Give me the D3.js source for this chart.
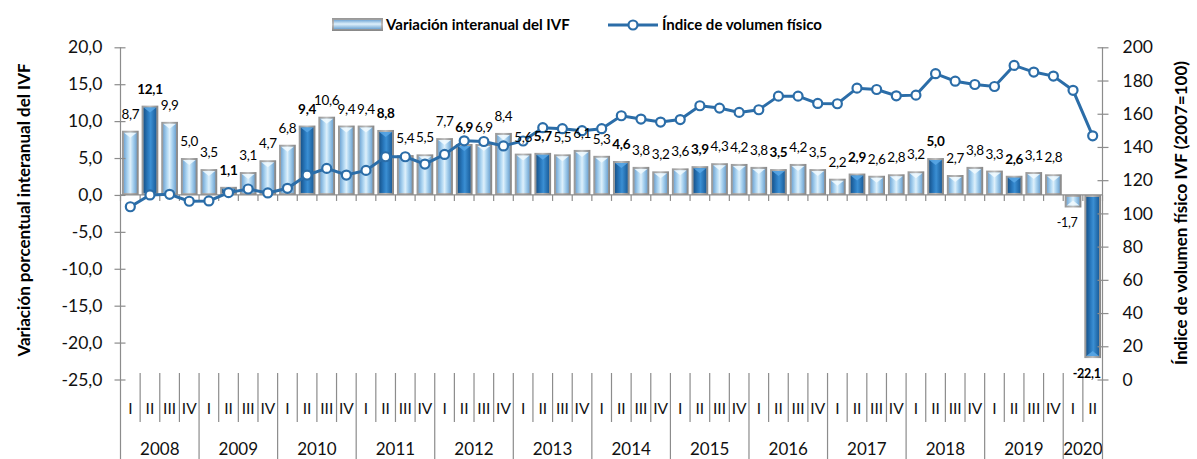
<!DOCTYPE html>
<html>
<head>
<meta charset="utf-8">
<script src="https://cdn.jsdelivr.net/npm/d3@7"></script>
<style>
  body { margin: 0; background: #fff; }
  svg { display: block; font-family: Lato, 'Noto Sans', sans-serif; }
  .tick text { fill: #111; }
</style>
</head>
<body>
<svg id="viz" width="1197" height="459"></svg>
<script>
(function () {
    // data
    let years = ['2008', '2009', '2010', '2011', '2012', '2013', '2014', '2015', '2016', '2017', '2018', '2019', '2020']
    let quarterNames = ['I', 'II', 'III', 'IV']
    let quartersPerYear = [4, 4, 4, 4, 4, 4, 4, 4, 4, 4, 4, 4, 2]
    let variation = [
        8.7, 12.1, 9.9, 5.0,
        3.5, 1.1, 3.1, 4.7,
        6.8, 9.4, 10.6, 9.4,
        9.4, 8.8, 5.4, 5.5,
        7.7, 6.9, 6.9, 8.4,
        5.6, 5.7, 5.5, 6.1,
        5.3, 4.6, 3.8, 3.2,
        3.6, 3.9, 4.3, 4.2,
        3.8, 3.5, 4.2, 3.5,
        2.2, 2.9, 2.6, 2.8,
        3.2, 5.0, 2.7, 3.8,
        3.3, 2.6, 3.1, 2.8,
        -1.7, -22.1
    ]
    let ivf = [
        104.0, 111.1, 111.5, 107.3,
        107.5, 112.5, 114.7, 112.3,
        115.1, 123.1, 127.1, 123.1,
        125.9, 134.1, 134.1, 129.7,
        135.5, 143.7, 143.3, 140.6,
        143.6, 151.6, 151.0, 149.8,
        151.0, 158.8, 156.8, 155.0,
        156.5, 164.8, 163.4, 160.8,
        162.4, 170.6, 170.6, 166.2,
        166.0, 175.4, 174.6, 170.8,
        171.2, 184.1, 179.6, 177.6,
        176.4, 189.1, 185.1, 182.7,
        174.1, 146.7
    ]
    let leftTicks = [20, 15, 10, 5, 0, -5, -10, -15, -20, -25]
    let rightTicks = [0, 20, 40, 60, 80, 100, 120, 140, 160, 180, 200]

    let config = {
        plot: { left: 120.5, right: 1102.5, top: 47.3, bottom: 379.5 },
        axisColor: '#8c8c8c',
        lineColor: '#2b6da8'
    }

    let locale = d3.formatLocale({ decimal: ',', thousands: '.', grouping: [3], currency: ['', ''], minus: '-' })
    let fmt1 = locale.format('.1f')

    // build the category list (year + quarter)
    let categories = []
    years.forEach((y, yi) => {
        for (let q = 0; q < quartersPerYear[yi]; q++) {
            categories.push({ year: y, quarter: quarterNames[q], q: q, idx: categories.length })
        }
    })

    let svg = d3.select('#viz')
    let p = config.plot

    let x = d3.scaleBand()
        .domain(categories.map(d => d.idx))
        .range([p.left, p.right])
        .paddingInner(0.15)
        .paddingOuter(0.075)
    let step = x.step()
    let yLeft = d3.scaleLinear().domain([-25, 20]).range([p.bottom, p.top])
    let yRight = d3.scaleLinear().domain([0, 200]).range([p.bottom, p.top])

    // gradients for the cylinder-ish bars
    let defs = svg.append('defs')
    function hGrad(id, stops) {
        let g = defs.append('linearGradient').attr('id', id)
            .attr('x1', '0%').attr('x2', '100%').attr('y1', '0%').attr('y2', '0%')
        stops.forEach(s => g.append('stop').attr('offset', s[0]).attr('stop-color', s[1]))
    }
    function vGrad(id, stops) {
        let g = defs.append('linearGradient').attr('id', id)
            .attr('x1', '0%').attr('x2', '0%').attr('y1', '0%').attr('y2', '100%')
        stops.forEach(s => g.append('stop').attr('offset', s[0]).attr('stop-color', s[1]))
    }
    hGrad('frameGrad', [['0%', '#969696'], ['50%', '#bdbdbd'], ['100%', '#858585']])
    hGrad('lightGrad', [['0%', '#74a8d6'], ['30%', '#b0d7f2'], ['50%', '#def0fb'], ['70%', '#acd4f0'], ['100%', '#70a5d3']])
    hGrad('darkGrad', [['0%', '#17548c'], ['35%', '#2a7abf'], ['55%', '#3b8fd3'], ['100%', '#1a5e9c']])
    vGrad('legendLight', [['0%', '#74a8d6'], ['45%', '#def0fb'], ['100%', '#70a5d3']])
    vGrad('legendFrame', [['0%', '#969696'], ['50%', '#bdbdbd'], ['100%', '#858585']])

    // bars
    let gBars = svg.append('g')
    categories.forEach(c => {
        let v = variation[c.idx]
        let isDark = c.q === 1
        let bx = x(c.idx)
        let bw = x.bandwidth()
        let y0 = yLeft(0)
        let y1 = yLeft(v)
        let top = Math.min(y0, y1)
        let h = Math.abs(y1 - y0)
        gBars.append('rect')
            .attr('x', bx).attr('y', top).attr('width', bw).attr('height', h)
            .attr('fill', 'url(#frameGrad)')
        gBars.append('rect')
            .attr('x', bx + 2).attr('y', top + 2).attr('width', bw - 4).attr('height', Math.max(0, h - 4))
            .attr('fill', isDark ? 'url(#darkGrad)' : 'url(#lightGrad)')
        // small cap highlight on the top of the bar
        if (h > 8) {
            let capY = v >= 0 ? top + 2 : top + h - 2
            let dir = v >= 0 ? 1 : -1
            gBars.append('path')
                .attr('d', `M${bx + 2},${capY} L${bx + bw - 2},${capY} L${bx + bw / 2},${capY + dir * 5} Z`)
                .attr('fill', isDark ? '#5aa8e6' : '#f2fafe')
                .attr('opacity', 0.85)
        }
    })

    // category axis line at zero with small ticks
    let gZero = svg.append('g').attr('stroke', config.axisColor).attr('stroke-width', 1.2)
    gZero.append('line')
        .attr('x1', p.left).attr('x2', p.right)
        .attr('y1', yLeft(0)).attr('y2', yLeft(0))
    d3.range(categories.length + 1).forEach(i => {
        let bxv = p.left + i * step
        gZero.append('line')
            .attr('x1', bxv).attr('x2', bxv)
            .attr('y1', yLeft(0)).attr('y2', yLeft(0) + 6)
    })

    // multilevel category labels at the bottom
    let gCat = svg.append('g')
    let sepTop = 373
    categories.forEach(c => {
        let cx = x(c.idx) + x.bandwidth() / 2
        gCat.append('text')
            .attr('x', cx).attr('y', 414)
            .attr('text-anchor', 'middle')
            .attr('font-size', 15.5)
            .attr('fill', '#111')
            .text(c.quarter)
        if (c.idx > 0) {
            let bxv = p.left + c.idx * step
            gCat.append('line')
                .attr('x1', bxv).attr('x2', bxv)
                .attr('y1', sepTop).attr('y2', c.q === 0 ? 459 : 422)
                .attr('stroke', config.axisColor).attr('stroke-width', 1.2)
        }
    })
    let start = 0
    years.forEach((y, yi) => {
        let n = quartersPerYear[yi]
        let cx = p.left + (start + n / 2) * step
        gCat.append('text')
            .attr('x', cx).attr('y', 455)
            .attr('text-anchor', 'middle')
            .attr('font-size', 17)
            .attr('fill', '#111')
            .text(y)
        start += n
    })

    // left axis
    let gLeft = svg.append('g')
        .attr('transform', `translate(${p.left},0)`)
        .call(d3.axisLeft(yLeft).tickValues(leftTicks).tickSize(6).tickPadding(12).tickFormat(fmt1))
    gLeft.select('.domain').remove()
    gLeft.selectAll('.tick line').attr('x1', 5).attr('stroke', config.axisColor).attr('stroke-width', 1.2)
    gLeft.selectAll('.tick text').attr('font-size', 17.5).attr('font-family', 'Lato, sans-serif')
    gLeft.append('line')
        .attr('x1', 0).attr('x2', 0).attr('y1', p.top).attr('y2', 459)
        .attr('stroke', config.axisColor).attr('stroke-width', 1.2)

    // right axis
    let gRight = svg.append('g')
        .attr('transform', `translate(${p.right},0)`)
        .call(d3.axisRight(yRight).tickValues(rightTicks).tickSize(6).tickPadding(14))
    gRight.select('.domain').remove()
    gRight.selectAll('.tick line').attr('x1', -5).attr('stroke', config.axisColor).attr('stroke-width', 1.2)
    gRight.selectAll('.tick text').attr('font-size', 17.5).attr('font-family', 'Lato, sans-serif')
    gRight.append('line')
        .attr('x1', 0).attr('x2', 0).attr('y1', p.top).attr('y2', 459)
        .attr('stroke', config.axisColor).attr('stroke-width', 1.2)

    // IVF line
    let line = d3.line()
        .x((d, i) => x(i) + x.bandwidth() / 2)
        .y(d => yRight(d))
    svg.append('path')
        .datum(ivf)
        .attr('d', line)
        .attr('fill', 'none')
        .attr('stroke', config.lineColor)
        .attr('stroke-width', 3)
    svg.append('g').selectAll('circle')
        .data(ivf)
        .join('circle')
        .attr('cx', (d, i) => x(i) + x.bandwidth() / 2)
        .attr('cy', d => yRight(d))
        .attr('r', 4.5)
        .attr('fill', '#fff')
        .attr('stroke', config.lineColor)
        .attr('stroke-width', 2.2)

    // bar labels, drawn on top of the line like the original
    let gLabels = svg.append('g')
    categories.forEach(c => {
        let v = variation[c.idx]
        let cx = x(c.idx) + x.bandwidth() / 2
        let neg = v < 0
        gLabels.append('text')
            .attr('x', neg ? cx - 6 : cx)
            .attr('y', neg ? yLeft(v) + 20 : yLeft(v) - 12)
            .attr('text-anchor', 'middle')
            .attr('font-size', neg ? 12.5 : 13.5)
            .attr('letter-spacing', -0.3)
            .attr('font-weight', c.q === 1 ? 'bold' : 'normal')
            .attr('fill', '#000')
            .text(fmt1(v))
    })

    // axis titles
    svg.append('text')
        .attr('transform', 'translate(30,210) rotate(-90)')
        .attr('text-anchor', 'middle')
        .attr('font-size', 17).attr('font-weight', 'bold').attr('fill', '#000')
        .text('Variación porcentual interanual del IVF')
    svg.append('text')
        .attr('transform', 'translate(1187,213) rotate(-90)')
        .attr('text-anchor', 'middle')
        .attr('font-size', 17).attr('font-weight', 'bold').attr('fill', '#000')
        .text('Índice de volumen físico IVF (2007=100)')

    // legend
    let gLeg = svg.append('g')
    gLeg.append('rect').attr('x', 332).attr('y', 18).attr('width', 51).attr('height', 13).attr('fill', 'url(#legendFrame)')
    gLeg.append('rect').attr('x', 334).attr('y', 20).attr('width', 47).attr('height', 9).attr('fill', 'url(#legendLight)')
    gLeg.append('text').attr('x', 386).attr('y', 30)
        .attr('font-size', 15).attr('font-weight', 'bold').attr('fill', '#000')
        .text('Variación interanual del IVF')
    gLeg.append('line').attr('x1', 608).attr('x2', 658).attr('y1', 25).attr('y2', 25)
        .attr('stroke', config.lineColor).attr('stroke-width', 3)
    gLeg.append('circle').attr('cx', 633).attr('cy', 25).attr('r', 4.5)
        .attr('fill', '#fff').attr('stroke', config.lineColor).attr('stroke-width', 2.2)
    gLeg.append('text').attr('x', 662).attr('y', 30)
        .attr('font-size', 15).attr('font-weight', 'bold').attr('fill', '#000')
        .text('Índice de volumen físico')
})()
</script>
</body>
</html>
